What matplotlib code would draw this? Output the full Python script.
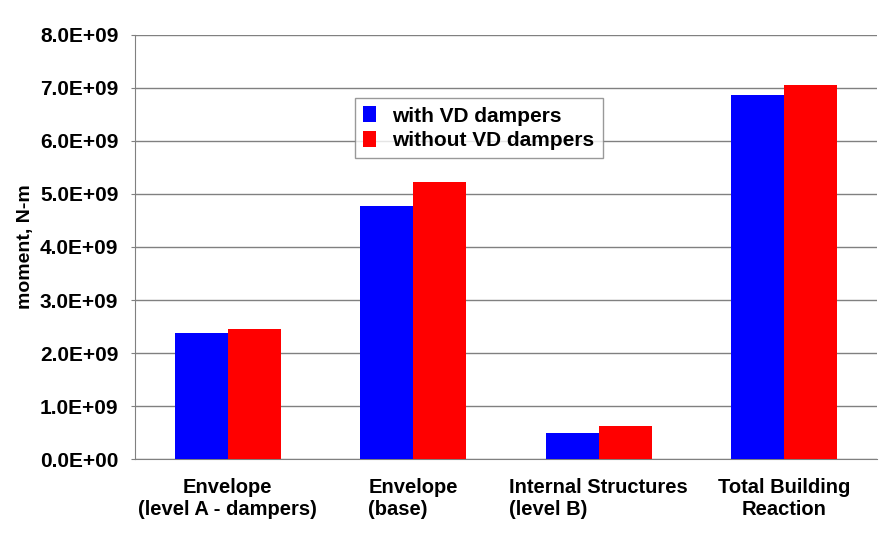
import numpy as np
import matplotlib.pyplot as plt
from matplotlib.ticker import FuncFormatter

categories = ["Envelope\n(level A - dampers)", "Envelope\n(base)",
              "Internal Structures\n(level B)", "Total Building\nReaction"]
label_align = ["center", "left", "left", "center"]
with_vd = [2.38e9, 4.77e9, 0.49e9, 6.87e9]
without_vd = [2.46e9, 5.23e9, 0.62e9, 7.06e9]
series_names = ["with VD dampers", "without VD dampers"]

plt.rcParams["font.family"] = ["Liberation Sans", "DejaVu Sans"]
plt.rcParams["font.weight"] = "bold"

fig = plt.figure(figsize=(8.8, 5.58), dpi=100)
ax = fig.add_axes([0.1534, 0.1774, 0.8432, 0.7599])

x = np.arange(len(categories))
w = 0.285
ax.bar(x - w / 2, with_vd, w, color="#0000ff", label=series_names[0], zorder=3)
ax.bar(x + w / 2, without_vd, w, color="#ff0000", label=series_names[1], zorder=3)

ax.set_xlim(-0.5, len(categories) - 0.5)
ax.set_ylim(0, 8e9)
ax.set_yticks(np.arange(0, 8.01e9, 1e9))
ax.yaxis.set_major_formatter(FuncFormatter(lambda v, p: "%.1E" % v))
ax.grid(axis="y", color="#808080", linewidth=1.0, zorder=0)

ax.set_xticks(x)
ax.set_xticklabels(categories, linespacing=1.2)
for lab, al in zip(ax.get_xticklabels(), label_align):
    lab.set_multialignment(al)
ax.tick_params(axis="x", length=0, pad=14, labelsize=14.5)
ax.tick_params(axis="y", length=3, direction="out", color="#808080", labelsize=15, pad=9)

for s in ["top", "right"]:
    ax.spines[s].set_visible(False)
ax.spines["left"].set_color("#808080")
ax.spines["bottom"].set_color("#808080")

ax.set_ylabel("moment, N-m", fontsize=14, fontweight="bold", labelpad=4)

leg = ax.legend(loc="upper left", bbox_to_anchor=(0.2965, 0.851), fontsize=15,
                frameon=True, fancybox=False, edgecolor="#808080",
                handlelength=0.6, handleheight=0.8, handletextpad=0.8,
                borderpad=0.4, labelspacing=0.25, borderaxespad=0)
leg.get_frame().set_linewidth(1.0)

fig.savefig("out.png", dpi=100, facecolor="white")
